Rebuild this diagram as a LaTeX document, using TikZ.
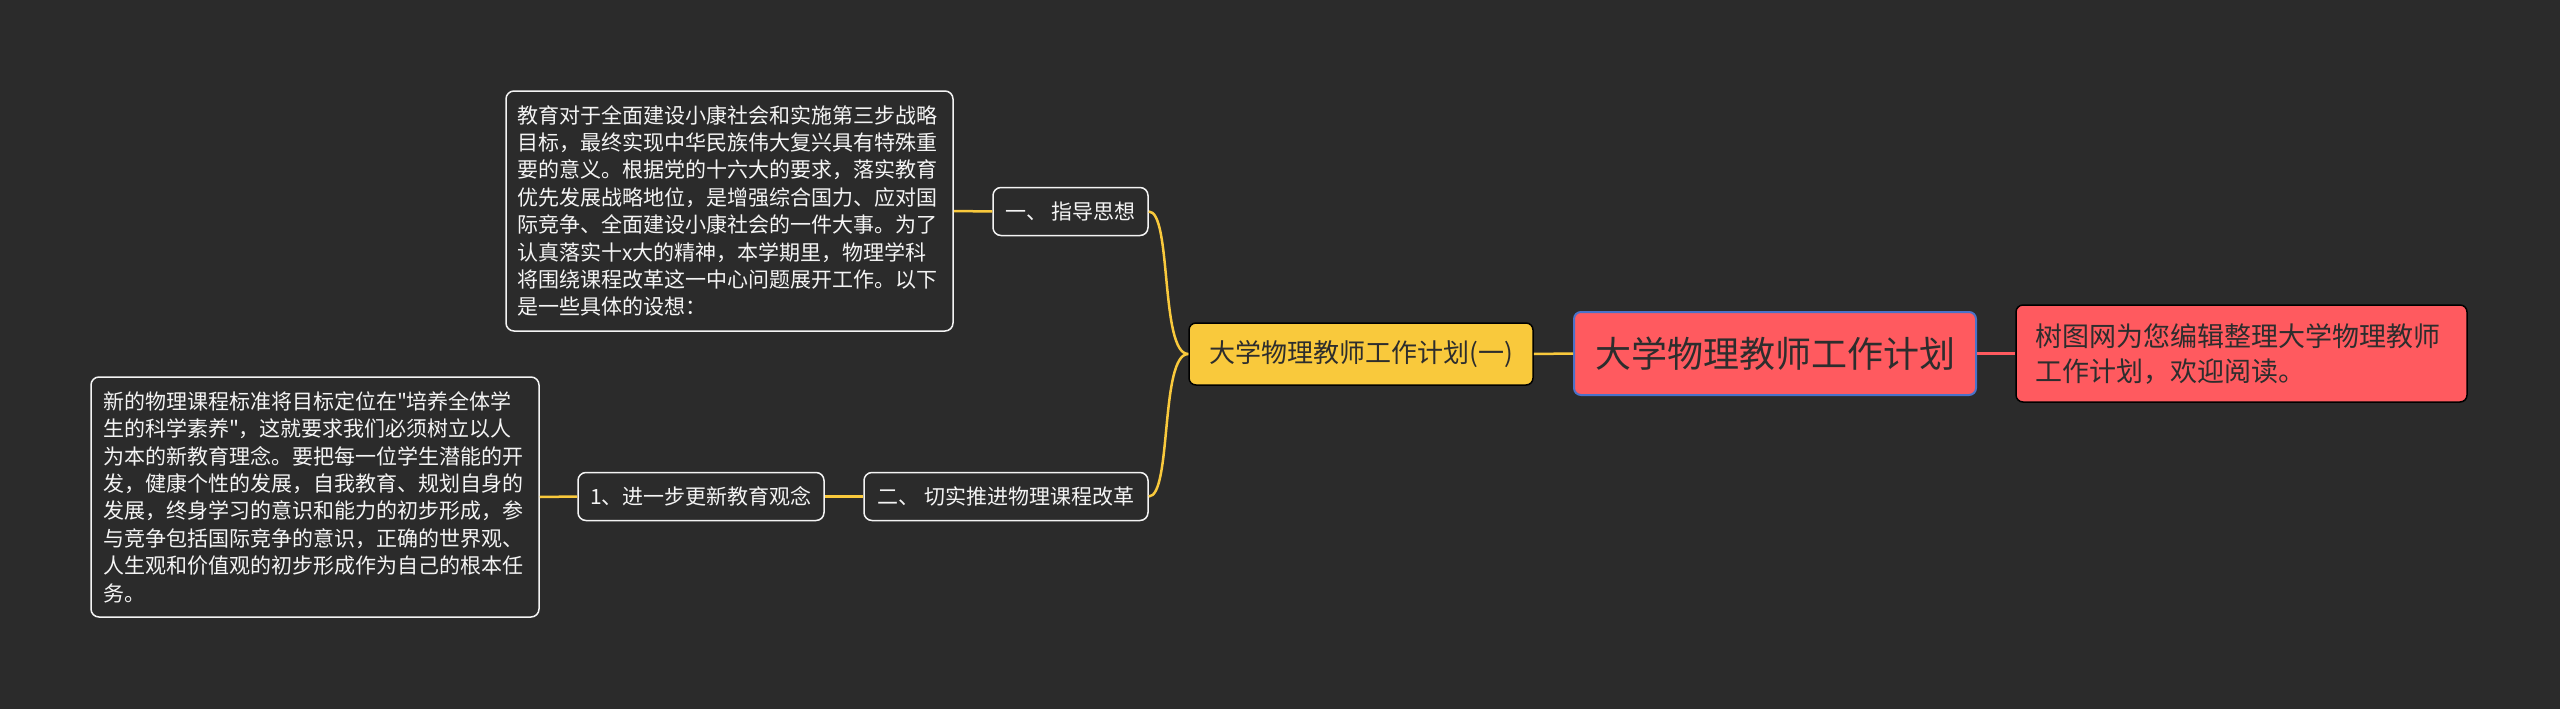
\documentclass[tikz,border=0pt]{standalone}
\usepackage{fontspec}
\setmainfont{Noto Sans CJK SC}[Ligatures=TeXOff]
\usetikzlibrary{positioning}
\definecolor{bgdark}{HTML}{2B2B2B}
\definecolor{coral}{HTML}{FF5A5F}
\definecolor{gold}{HTML}{F9C93C}
\definecolor{edgeblue}{HTML}{4A72C9}
\definecolor{inkdark}{HTML}{2D2D2D}
\definecolor{paper}{HTML}{F4F4F4}

\begin{document}
\begin{tikzpicture}[x=1pt,y=-1pt,
  rootbox/.style={draw=edgeblue,line width=2pt,fill=coral,rounded corners=7pt,
    minimum width=402pt,minimum height=83pt,inner sep=0pt,text=inkdark,
    font=\fontsize{36}{40}\selectfont},
  notebox/.style={draw=black,line width=1.5pt,fill=coral,rounded corners=7pt,
    minimum width=451pt,minimum height=97pt,inner sep=0pt,align=left,text width=412pt,
    text=inkdark,font=\fontsize{27}{35}\selectfont},
  planbox/.style={draw=black,line width=1.5pt,fill=gold,rounded corners=7pt,
    minimum width=344pt,minimum height=62pt,inner sep=0pt,text=inkdark,
    font=\fontsize{26}{30}\selectfont},
  branchbox/.style={draw=paper,line width=1.5pt,fill=bgdark,rounded corners=8pt,
    minimum height=48pt,inner sep=0pt,text=paper,font=\fontsize{21}{24}\selectfont},
  textbox/.style={draw=paper,line width=1.5pt,fill=bgdark,rounded corners=8pt,
    minimum width=447pt,minimum height=240pt,inner sep=0pt,align=left,text width=424pt,
    text=paper,font=\fontsize{21}{27.4}\selectfont},
  yline/.style={draw=gold,line width=2.5pt},
  rline/.style={draw=coral,line width=2.5pt}]
  \fill[bgdark] (0,0) rectangle (2560,709);

  \node[rootbox] (root) at (1775,353.5) {大学物理教师工作计划};
  \node[notebox] (note) at (2241.5,353.5) {树图网为您编辑整理大学物理教师\\工作计划，欢迎阅读。};
  \node[planbox] (plan) at (1361,354) {大学物理教师工作计划(一)};

  \node[branchbox,minimum width=155pt] (guide) at (1070.5,211.5) {一、 指导思想};
  \node[textbox] (guidetext) at (729.5,211) {教育对于全面建设小康社会和实施第三步战略\\目标，最终实现中华民族伟大复兴具有特殊重\\要的意义。根据党的十六大的要求，落实教育\\优先发展战略地位，是增强综合国力、应对国\\际竞争、全面建设小康社会的一件大事。为了\\认真落实十x大的精神，本学期里，物理学科\\将围绕课程改革这一中心问题展开工作。以下\\是一些具体的设想：};

  \node[branchbox,minimum width=284pt] (reform) at (1006,496.5) {二、 切实推进物理课程改革};
  \node[branchbox,minimum width=246pt] (idea) at (701,496.5) {1、进一步更新教育观念};
  \node[textbox,minimum width=448pt] (ideatext) at (315,497) {新的物理课程标准将目标定位在"培养全体学\\生的科学素养"，这就要求我们必须树立以人\\为本的新教育理念。要把每一位学生潜能的开\\发，健康个性的发展，自我教育、规划自身的\\发展，终身学习的意识和能力的初步形成，参\\与竞争包括国际竞争的意识，正确的世界观、\\人生观和价值观的初步形成作为自己的根本任\\务。};

  \draw[rline] (root.east) -- (note.west);
  \draw[yline] (plan.east) -- (root.west);
  \draw[yline] (plan.west) .. controls (1160,354) and (1172,211) .. (guide.east);
  \draw[yline] (plan.west) .. controls (1160,354) and (1172,496.5) .. (reform.east);
  \draw[yline] (guidetext.east) -- (guide.west);
  \draw[yline] (reform.west) -- (idea.east);
  \draw[yline] (idea.west) -- (ideatext.east);
\end{tikzpicture}
\end{document}
